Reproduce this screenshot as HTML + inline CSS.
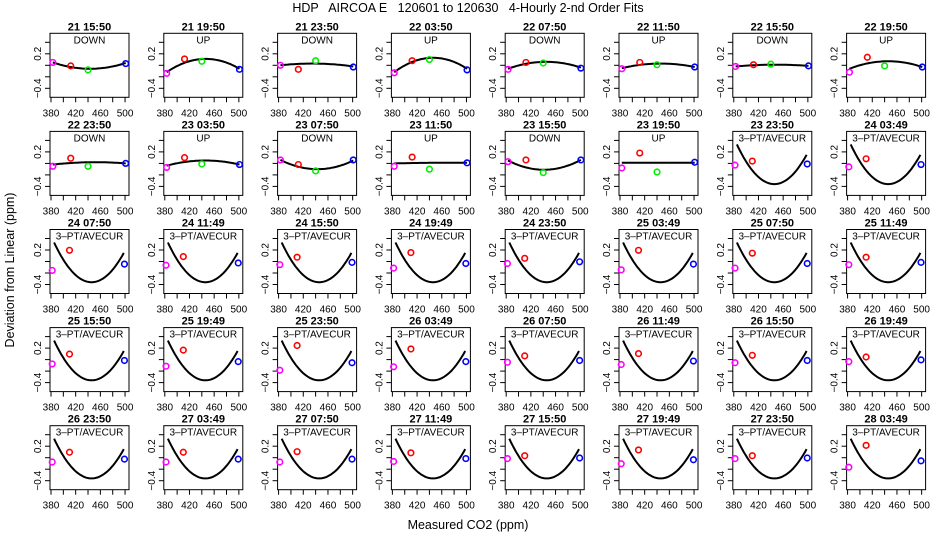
<!DOCTYPE html>
<html><head><meta charset="utf-8"><style>
html,body{margin:0;padding:0;background:#fff;}
svg{display:block;font-family:"Liberation Sans",sans-serif;}
</style></head><body>
<svg id="chart" width="936" height="540" viewBox="0 0 936 540" xmlns="http://www.w3.org/2000/svg">
<text x="468" y="12" text-anchor="middle" font-size="12.5" style="white-space:pre" xml:space="preserve">HDP   AIRCOA E   120601 to 120630   4-Hourly 2-nd Order Fits</text>
<text x="468" y="529" text-anchor="middle" font-size="12.5">Measured CO2 (ppm)</text>
<text transform="translate(14,270) rotate(-90)" text-anchor="middle" font-size="12.5">Deviation from Linear (ppm)</text>
<g id="panels"></g>
</svg>
<script>
const titles=["21 15:50","21 19:50","21 23:50","22 03:50","22 07:50","22 11:50","22 15:50","22 19:50",
"22 23:50","23 03:50","23 07:50","23 11:50","23 15:50","23 19:50","23 23:50","24 03:49",
"24 07:50","24 11:49","24 15:50","24 19:49","24 23:50","25 03:49","25 07:50","25 11:49",
"25 15:50","25 19:49","25 23:50","26 03:49","26 07:50","26 11:49","26 15:50","26 19:49",
"26 23:50","27 03:49","27 07:50","27 11:49","27 15:50","27 19:49","27 23:50","28 03:49"];
const modes=["DOWN","UP","DOWN","UP","DOWN","UP","DOWN","UP","DOWN","UP","DOWN","UP","DOWN","UP"];
const magentaVals=[0.05,-0.14,0,-0.13,-0.07,-0.06,-0.02,-0.12,
-0.05,-0.07,0.06,-0.05,0.03,-0.08,-0.03,-0.06,
-0.155,-0.065,-0.055,-0.115,-0.035,-0.145,-0.115,-0.055,
-0.075,-0.115,-0.185,-0.125,-0.045,-0.085,-0.055,-0.035,
-0.075,-0.075,-0.075,-0.065,-0.015,-0.105,-0.015,-0.165];
const redVals=[-0.01,0.11,-0.07,0.08,0.05,0.05,0.01,0.14,
0.09,0.10,-0.02,0.11,0.06,0.18,0.04,0.08,
0.195,0.085,0.075,0.155,0.055,0.195,0.145,0.075,
0.095,0.165,0.245,0.185,0.065,0.105,0.075,0.045,
0.095,0.095,0.105,0.085,0.035,0.135,0.035,0.215];
const greenVals=[-0.08,0.07,0.08,0.1,0.04,0.01,0.02,-0.01,
-0.05,-0.01,-0.13,-0.10,-0.16,-0.15];
const blueVals=[0.03,-0.07,-0.03,-0.08,-0.05,-0.03,-0.01,-0.03,
0,-0.02,0.06,0.01,0.06,0.02,-0.01,-0.02,
-0.045,-0.025,-0.015,-0.035,-0.005,-0.045,-0.035,-0.015,
-0.015,-0.035,-0.055,-0.035,-0.015,-0.025,-0.015,-0.005,
-0.025,-0.025,-0.025,-0.015,-0.005,-0.035,-0.005,-0.055];
const fitStart=[0.05,-0.12,0,-0.12,-0.06,-0.05,-0.02,-0.06,-0.02,-0.04,0.06,0,0.05,0.01];
const fitMid=[-0.06,0.11,0.03,0.13,0.06,0.03,0.01,0.07,0.02,0.05,-0.10,0.01,-0.11,0.01];
const fitEnd=[0.04,-0.06,-0.02,-0.06,-0.04,-0.03,-0.01,-0.03,0,-0.02,0.05,0.01,0.06,0.01];
const aveCurve=[0.33,-0.36,0.15];
const co2Four=[383,412,440,501];
const co2Three=[382,410,499];
const xTicks=[380,400,420,440,460,480,500];
const xTickLabels=["380","420","460","500"];
const yTicks=[0.4,0.2,0,-0.2,-0.4];
const yTickLabels=["0.2","-0.4"];

const NS="http://www.w3.org/2000/svg";
const root=document.getElementById('panels');
function mk(tag,attrs,parent){const e=document.createElementNS(NS,tag);for(const k in attrs)e.setAttribute(k,attrs[k]);parent.appendChild(e);return e;}
const BW=79,XMIN=378.4,XMAX=506.4,YS=57.5;
function quad(x,x0,y0,x1,y1,x2,y2){
  return y0*(x-x1)*(x-x2)/((x0-x1)*(x0-x2))+y1*(x-x0)*(x-x2)/((x1-x0)*(x1-x2))+y2*(x-x0)*(x-x1)/((x2-x0)*(x2-x1));
}
titles.forEach((t,i)=>{
  const col=i%8,row=Math.floor(i/8);
  const left=50+col*113.8, zero=65.3+row*98.1, top=zero-32, bot=zero+32;
  const sx=v=>left+(v-XMIN)/(XMAX-XMIN)*BW;
  const sy=v=>zero-v*YS;
  const g=mk('g',{},root);
  
  
  const box=mk('rect',{x:left,y:top,width:BW,height:bot-top,fill:'none',stroke:'#000','stroke-width':1},g);
  
  
  const tt=mk('text',{x:left+BW/2,y:top-3,'text-anchor':'middle','font-size':11,'font-weight':'bold'},g);
  tt.textContent=t;
  
  
  const four=i<modes.length;
  const st=mk('text',{x:left+BW/2,y:top+10,'text-anchor':'middle','font-size':10},g);
  st.textContent=four?modes[i]:"3\u2013PT/AVECUR";
  
  
  xTicks.forEach(v=>{mk('line',{x1:sx(v),x2:sx(v),y1:bot,y2:bot+5,stroke:'#000'},g);});
  xTickLabels.forEach(l=>{const e=mk('text',{x:sx(+l),y:bot+19,'text-anchor':'middle','font-size':10},g);e.textContent=l;
    
    });
  yTicks.forEach(v=>{mk('line',{x1:left-5,x2:left,y1:sy(v),y2:sy(v),stroke:'#000'},g);});
  yTickLabels.forEach(l=>{const v=+l;const e=mk('text',{'text-anchor':'middle','font-size':10,transform:`translate(${left-9},${sy(v)}) rotate(-90)`},g);e.textContent=l.replace('-','\u2212');
    
    });
  let xs,c;
  if(four){xs=[co2Four[0],442,co2Four[3]];c=[fitStart[i],fitMid[i],fitEnd[i]];}
  else{xs=[385,444,498];c=aveCurve;}
  let d='';
  for(let k=0;k<=40;k++){const x=xs[0]+(xs[2]-xs[0])*k/40;const y=quad(x,xs[0],c[0],xs[1],c[1],xs[2],c[2]);d+=(k?'L':'M')+sx(x).toFixed(1)+','+sy(y).toFixed(1);}
  const p=mk('path',{d:d,fill:'none',stroke:'#000','stroke-width':2},g);
  
  
  const pts=four?[[co2Four[0],magentaVals[i],'#ff00ff'],[co2Four[1],redVals[i],'#ff0000'],[co2Four[2],greenVals[i],'#00ee00'],[co2Four[3],blueVals[i],'#0000ff']]
               :[[co2Three[0],magentaVals[i],'#ff00ff'],[co2Three[1],redVals[i],'#ff0000'],[co2Three[2],blueVals[i],'#0000ff']];
  pts.forEach(q=>{const e=mk('circle',{cx:sx(q[0]),cy:sy(q[1]),r:2.8,fill:'none',stroke:q[2],'stroke-width':1.6},g);
    
    });
});
</script>
</body></html>
